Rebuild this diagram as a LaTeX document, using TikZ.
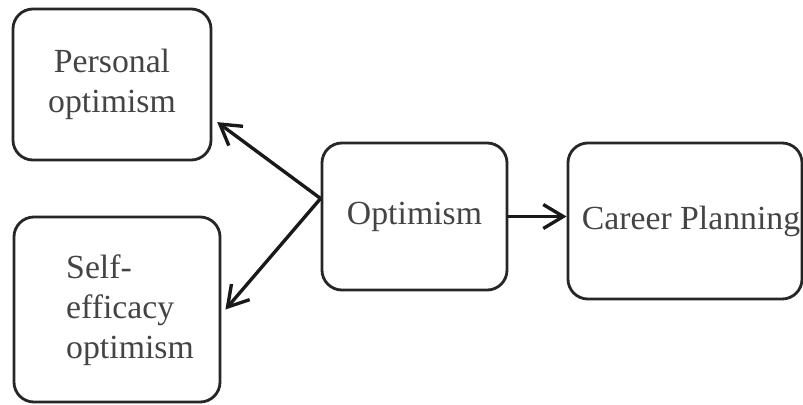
\documentclass[tikz,border=0pt]{standalone}
\usepackage{fontspec}
\setmainfont{Liberation Serif}
\usetikzlibrary{arrows.meta}
\definecolor{txtgray}{HTML}{444444}
\tikzset{
  box/.style={draw=black!85,line width=2pt,rounded corners=0.5cm,
    inner sep=0pt,align=center,text=txtgray,font=\fontsize{24}{28.5}\selectfont},
  link/.style={line width=2.4pt,black!90,-{Straight Barb[length=5mm,width=6mm,line width=2.4pt]}}
}
\begin{document}
\begin{tikzpicture}[x=0.025cm,y=-0.025cm]
            \useasboundingbox(0,0)rectangle(803,404);
            \node[box,minimum width=4.95cm,minimum height=3.775cm](pers)at(112,84.5){Personal\\optimism};
            \node[box,minimum width=5.15cm,minimum height=4.625cm](self)at(117,309.5){};
            \node[align=left,text=txtgray,font=\fontsize{24}{28.5}\selectfont](selftxt)at(130,310){Self-\\efficacy\\optimism};
            \node[box,minimum width=4.625cm,minimum height=3.675cm](opt)at(414.5,216.5){Optimism};
            \node[box,minimum width=5.85cm,minimum height=3.9cm](car)at(685,221){\hspace*{0.3cm}Career Planning};
            \coordinate(o)at([yshift=0.45cm]opt.west);
            \draw[link](o)to([xshift=0.12cm,yshift=-0.94cm]pers.east);
            \draw[link](o)to([xshift=0.1cm]self.east);
            \draw[link](opt.east)to(opt.east-|car.west);
        \end{tikzpicture}
\end{document}
